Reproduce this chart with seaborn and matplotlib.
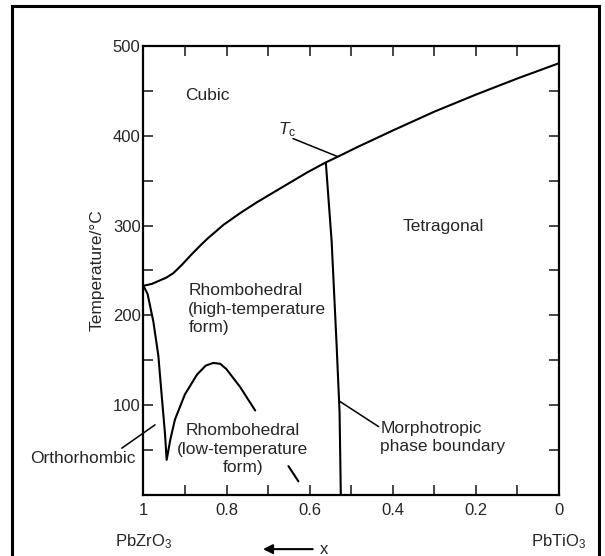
import numpy as np
import pandas as pd
import seaborn as sns
import matplotlib.pyplot as plt
from matplotlib.patches import Rectangle

# Curie temperature line (cubic boundary)
tc_x = [1.0, 0.98, 0.96, 0.945, 0.928, 0.908, 0.888, 0.867, 0.847, 0.807, 0.767, 0.727, 0.687,
        0.647, 0.607, 0.563, 0.527, 0.483, 0.4, 0.3, 0.2, 0.1, 0.0]
tc_T = [233, 235, 239, 242, 247, 256, 266, 276, 285, 301, 314, 326, 337,
        348, 359, 370, 378, 388, 406, 427, 446, 464, 481]

# morphotropic phase boundary
mpb_x = [0.561, 0.547, 0.535, 0.528, 0.525]
mpb_T = [370, 282, 166, 92, 0]

# orthorhombic / rhombohedral (low-T) boundary
ro_x = [1.0, 0.99, 0.976, 0.964, 0.956, 0.948, 0.944, 0.935, 0.924, 0.9, 0.871, 0.85, 0.832, 0.815, 0.8, 0.767, 0.731]
ro_T = [233, 224, 193, 155, 111, 68, 39, 62, 84, 112, 134, 144, 147, 146, 140, 120, 94]

# short continuation
seg_x = [0.651, 0.627]
seg_T = [32, 15]

xtick_vals = [1, 0.8, 0.6, 0.4, 0.2, 0]
xtick_labels = ['1', '0.8', '0.6', '0.4', '0.2', '0']
ytick_vals = [0, 100, 200, 300, 400, 500]
ytick_labels = ['', '100', '200', '300', '400', '500']

sns.set_theme(style="ticks")
plt.rcParams['font.family'] = ['Liberation Sans', 'DejaVu Sans']
plt.rcParams['mathtext.fontset'] = 'custom'
plt.rcParams['mathtext.rm'] = 'Liberation Sans'
plt.rcParams['mathtext.it'] = 'Liberation Sans:italic'

fig = plt.figure(figsize=(6.05, 5.56), dpi=100)
ax = fig.add_axes([0.237, 0.110, 0.687, 0.807])

kw = dict(color='black', linewidth=1.5, sort=False, estimator=None, legend=False, ax=ax)
sns.lineplot(x=tc_x, y=tc_T, **kw)
sns.lineplot(x=mpb_x, y=mpb_T, **kw)
sns.lineplot(x=ro_x, y=ro_T, **kw)
sns.lineplot(x=seg_x, y=seg_T, **kw)

# leader lines
ax.plot([0.972, 1.052], [78, 52], color='black', lw=1.1, clip_on=False)
ax.plot([0.64, 0.533], [397, 377], color='black', lw=1.1)
ax.plot([0.527, 0.434], [104, 76], color='black', lw=1.1)

ax.set_xlim(1, 0)
ax.set_ylim(0, 500)
ax.set_xticks(xtick_vals)
ax.set_xticklabels(xtick_labels)
ax.set_xticks(np.arange(0, 1.01, 0.1), minor=True)
ax.set_yticks(ytick_vals)
ax.set_yticklabels(ytick_labels)
ax.set_yticks(np.arange(0, 501, 50), minor=True)
ax.tick_params(which='both', direction='in', top=True, right=True, width=1.2, labelsize=12)
ax.tick_params(which='major', length=7)
ax.tick_params(which='minor', length=7)
ax.tick_params(axis='x', pad=6)
ax.tick_params(axis='y', pad=2)
for s in ax.spines.values():
    s.set_linewidth(1.6)
    s.set_color('black')

ax.set_ylabel('Temperature/°C', fontsize=12.5, labelpad=6)
ax.set_xlabel('')

fs = 12.5
ax.text(0.847, 445, 'Cubic', fontsize=fs, ha='center', va='center')
ax.text(0.278, 299, 'Tetragonal', fontsize=fs, ha='center', va='center')
ax.text(0.892, 207, 'Rhombohedral\n(high-temperature\nform)', fontsize=fs, ha='left', va='center',
        linespacing=1.3)
ax.text(0.761, 51, 'Rhombohedral\n(low-temperature\nform)', fontsize=fs, ha='center', va='center',
        linespacing=1.3)
ax.text(0.43, 64, 'Morphotropic\nphase boundary', fontsize=fs, ha='left', va='center', linespacing=1.3)
ax.text(1.145, 40, 'Orthorhombic', fontsize=fs, ha='center', va='center', clip_on=False)
ax.text(0.655, 407, r'$T_{\rm c}$', fontsize=fs, ha='center', va='center')

tr = ax.get_xaxis_transform()
ax.text(1.0, -0.105, r'PbZrO$_3$', transform=tr, fontsize=12, ha='center', va='center')
ax.text(0.0, -0.105, r'PbTiO$_3$', transform=tr, fontsize=12, ha='center', va='center')
ax.annotate('', xy=(0.719, -0.121), xytext=(0.586, -0.121), xycoords=tr, textcoords=tr,
            arrowprops=dict(arrowstyle='-|>', color='black', lw=1.5, mutation_scale=14))
ax.text(0.565, -0.121, 'x', transform=tr, fontsize=12, ha='center', va='center')

fig.patches.append(Rectangle((0.02, -0.01), 0.97, 0.999, transform=fig.transFigure,
                             fill=False, edgecolor='black', linewidth=2.2))

plt.savefig('out.png')
